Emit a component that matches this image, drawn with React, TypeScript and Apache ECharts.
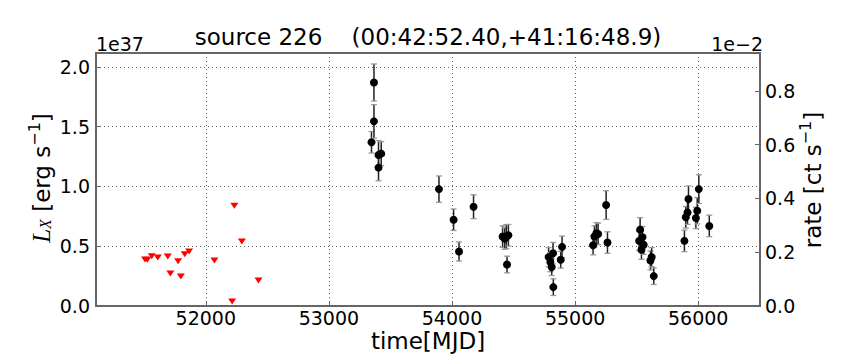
import React, { useEffect, useRef } from "react";
import * as echarts from "echarts";

// Detections: MJD, L_X (1e37 erg/s), 1-sigma error (1e37 erg/s)
const detMJD = [
  53346, 53366, 53366, 53403, 53425, 53403, 53894, 54013, 54057, 54175,
  54411, 54428, 54441, 54458, 54447, 54785, 54799, 54810, 54821, 54823,
  54883, 54894, 55146, 55157, 55173, 55187, 55252, 55263, 55520, 55528,
  55539, 55547, 55557, 55612, 55622, 55639, 55888, 55899, 55913, 55921,
  55981, 55992, 56005, 56090,
];
const detL = [
  1.37, 1.87, 1.545, 1.264, 1.275, 1.158, 0.978, 0.722, 0.456, 0.831,
  0.581, 0.564, 0.581, 0.592, 0.347, 0.409, 0.367, 0.325, 0.442, 0.158,
  0.387, 0.495, 0.508, 0.581, 0.608, 0.603, 0.845, 0.531, 0.545, 0.639,
  0.47, 0.575, 0.512, 0.381, 0.409, 0.25, 0.545, 0.742, 0.783, 0.895,
  0.737, 0.797, 0.978, 0.67,
];
const detErr = [
  0.09, 0.155, 0.14, 0.12, 0.1, 0.11, 0.11, 0.09, 0.08, 0.1,
  0.09, 0.09, 0.1, 0.09, 0.07, 0.08, 0.08, 0.07, 0.09, 0.07,
  0.07, 0.09, 0.08, 0.09, 0.09, 0.09, 0.12, 0.09, 0.08, 0.1,
  0.08, 0.09, 0.08, 0.08, 0.08, 0.07, 0.09, 0.09, 0.1, 0.11,
  0.09, 0.11, 0.12, 0.09,
];

// Upper limits: MJD, L_X (1e37 erg/s)
const ulMJD = [
  51506, 51525, 51561, 51610, 51691, 51712, 51775, 51797, 51829, 51864,
  52070, 52232, 52293, 52428, 52214,
];
const ulL = [
  0.389, 0.387, 0.417, 0.406, 0.414, 0.272, 0.375, 0.247, 0.433, 0.456,
  0.381, 0.839, 0.539, 0.214, 0.037,
];

const xMin = 51108;
const xMax = 56502;
const yMax = 2.117;
const rateFactor = 2.25; // 1e37 erg/s per 1e-2 ct/s

const FONT = "DejaVu Sans";

export default function App() {
  const ref = useRef<HTMLDivElement>(null);

  useEffect(() => {
    if (!ref.current) return;
    const chart = echarts.init(ref.current, null, { renderer: "svg" });

    const errData = detMJD.map((m, i) => [m, detL[i], detErr[i]]);
    const detData = detMJD.map((m, i) => [m, detL[i]]);
    const ulData = ulMJD.map((m, i) => [m, ulL[i]]);

    const gridLine = { show: true, lineStyle: { color: "#666", type: [1, 3], width: 1 } };
    const tickStyle = { show: true, inside: true, length: 5, lineStyle: { color: "#666", width: 1 } };
    const labelStyle = { color: "#000", fontSize: 19, fontFamily: FONT };

    chart.setOption({
      animation: false,
      backgroundColor: "#fff",
      grid: {
        left: 96,
        top: 53,
        width: 664,
        height: 253,
        show: true,
        borderColor: "#666",
        borderWidth: 2,
        backgroundColor: "transparent",
      },
      xAxis: {
        type: "value",
        min: xMin,
        max: xMax,
        splitNumber: 5,
        axisLine: { show: false },
        axisTick: tickStyle,
        splitLine: gridLine,
        axisLabel: {
          ...labelStyle,
          margin: 2,
          showMinLabel: false,
          showMaxLabel: false,
          formatter: (v: number) => String(v),
        },
      },
      yAxis: [
        {
          type: "value",
          min: 0,
          max: yMax,
          interval: 0.5,
          axisLine: { show: false },
          axisTick: tickStyle,
          splitLine: gridLine,
          axisLabel: {
            ...labelStyle,
            margin: 6,
            showMaxLabel: false,
            formatter: (v: number) => v.toFixed(1),
          },
        },
        {
          type: "value",
          min: 0,
          max: yMax / rateFactor,
          interval: 0.2,
          position: "right",
          axisLine: { show: false },
          axisTick: tickStyle,
          splitLine: { show: false },
          axisLabel: {
            ...labelStyle,
            margin: 5,
            showMaxLabel: false,
            formatter: (v: number) => v.toFixed(1),
          },
        },
      ],
      series: [
        {
          type: "custom",
          xAxisIndex: 0,
          yAxisIndex: 0,
          data: errData,
          encode: { x: 0, y: 1 },
          renderItem: (params: any, api: any) => {
            const x = api.value(0);
            const y = api.value(1);
            const e = api.value(2);
            const t = api.coord([x, y + e]);
            const b = api.coord([x, y - e]);
            const cw = 3;
            return {
              type: "group",
              children: [
                {
                  type: "line",
                  shape: { x1: t[0], y1: t[1], x2: b[0], y2: b[1] },
                  style: { stroke: "#222", lineWidth: 1.5 },
                },
                {
                  type: "line",
                  shape: { x1: t[0] - cw, y1: t[1], x2: t[0] + cw, y2: t[1] },
                  style: { stroke: "#999", lineWidth: 1.3 },
                },
                {
                  type: "line",
                  shape: { x1: b[0] - cw, y1: b[1], x2: b[0] + cw, y2: b[1] },
                  style: { stroke: "#999", lineWidth: 1.3 },
                },
              ],
            };
          },
          z: 2,
        },
        {
          type: "scatter",
          data: detData,
          symbol: "circle",
          symbolSize: 8,
          itemStyle: { color: "#000", opacity: 1 },
          z: 3,
        },
        {
          type: "scatter",
          data: ulData,
          symbol: "triangle",
          symbolRotate: 180,
          symbolSize: [8, 6],
          itemStyle: { color: "#ff0000", opacity: 1 },
          z: 3,
        },
      ],
      graphic: [
        {
          type: "text",
          x: 428,
          y: 37,
          style: {
            text: "source 226    (00:42:52.40,+41:16:48.9)",
            fontSize: 23,
            fontFamily: FONT,
            fill: "#000",
            align: "center",
            verticalAlign: "middle",
          },
        },
        {
          type: "text",
          x: 96,
          y: 53,
          style: {
            text: "1e37",
            fontSize: 19,
            fontFamily: FONT,
            fill: "#000",
            align: "left",
            verticalAlign: "bottom",
          },
        },
        {
          type: "text",
          x: 763,
          y: 53,
          style: {
            text: "1e\u22122",
            fontSize: 19,
            fontFamily: FONT,
            fill: "#000",
            align: "right",
            verticalAlign: "bottom",
          },
        },
        {
          type: "text",
          x: 428,
          y: 341,
          style: {
            text: "time[MJD]",
            fontSize: 23,
            fontFamily: FONT,
            fill: "#000",
            align: "center",
            verticalAlign: "middle",
          },
        },
        {
          type: "text",
          x: 40,
          y: 178,
          rotation: Math.PI / 2,
          style: {
            text: "{L|L}{sub|X}{n| [erg s}{sup|\u22121}{n|]}",
            align: "center",
            verticalAlign: "middle",
            fill: "#000",
            rich: {
              L: { fontSize: 25, fontFamily: "Liberation Serif", fontStyle: "italic", lineHeight: 27, verticalAlign: "bottom" },
              sub: { fontSize: 16, fontFamily: "Liberation Serif", fontStyle: "italic", lineHeight: 20, verticalAlign: "bottom" },
              n: { fontSize: 23, fontFamily: FONT, lineHeight: 27, verticalAlign: "bottom" },
              sup: { fontSize: 16, fontFamily: FONT, lineHeight: 16, verticalAlign: "top" },
            },
          },
        },
        {
          type: "text",
          x: 811,
          y: 180,
          rotation: Math.PI / 2,
          style: {
            text: "{n|rate [ct s}{sup|\u22121}{n|]}",
            align: "center",
            verticalAlign: "middle",
            fill: "#000",
            rich: {
              n: { fontSize: 23, fontFamily: FONT, lineHeight: 27, verticalAlign: "bottom" },
              sup: { fontSize: 16, fontFamily: FONT, lineHeight: 16, verticalAlign: "top" },
            },
          },
        },
      ],
    });

    return () => chart.dispose();
  }, []);

  return (
    <div
      ref={ref}
      style={{ position: "fixed", left: 0, top: 0, width: 864, height: 360, background: "#fff" }}
    />
  );
}
